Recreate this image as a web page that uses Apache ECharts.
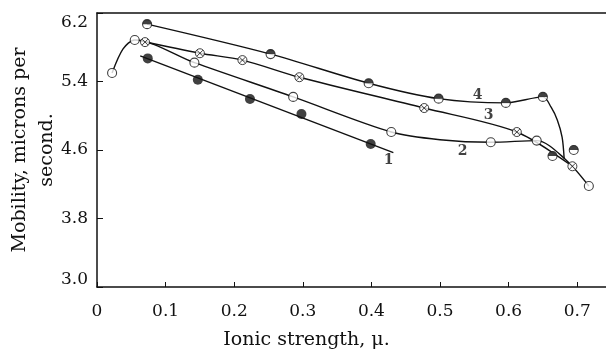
<!DOCTYPE html>
<html><head><meta charset="utf-8">
<script src="https://cdn.jsdelivr.net/npm/echarts@6/dist/echarts.min.js"></script>
<style>html,body{margin:0;padding:0;background:#fff}#c{width:606px;height:349px}</style>
</head><body><div id="c"></div>
<script>
const xTicks = [0, 0.1, 0.2, 0.3, 0.4, 0.5, 0.6, 0.7];
const yTicks = [3.0, 3.8, 4.6, 5.4, 6.2];

// Curve 1 (filled circles)
const s1Points = [[0.074,5.67],[0.147,5.42],[0.223,5.195],[0.298,5.02],[0.399,4.67]];
const s1Line = [[0.063,5.70],[0.432,4.57]];

// Curve 2 (open circles)
const s2Points = [[0.022,5.50],[0.055,5.885],[0.142,5.62],[0.286,5.22],[0.429,4.81],[0.574,4.69],[0.641,4.71],[0.717,4.18]];
const s2Line = [[0.022,5.50],[0.038,5.78],[0.055,5.885],[0.142,5.62],[0.286,5.22],[0.429,4.81],[0.500,4.72],[0.574,4.69],[0.641,4.71],[0.683,4.49],[0.717,4.18]];

// Curve 3 (crossed circles)
const s3Points = [[0.070,5.86],[0.150,5.73],[0.212,5.65],[0.295,5.45],[0.477,5.09],[0.612,4.81],[0.693,4.41]];
const s3Line = [[0.066,5.87],[0.150,5.73],[0.212,5.65],[0.295,5.45],[0.477,5.09],[0.612,4.81],[0.693,4.41]];

// Curve 4 (half-filled circles)
const s4Points = [[0.073,6.07],[0.253,5.72],[0.396,5.38],[0.498,5.20],[0.596,5.15],[0.650,5.22],[0.664,4.53],[0.695,4.60]];
const s4Line = [[0.073,6.07],[0.253,5.72],[0.396,5.38],[0.498,5.20],[0.596,5.15],[0.650,5.22],[0.662,5.10],[0.671,4.95],[0.678,4.75],[0.681,4.50]];

// Curve number labels: [text, x, y]
const curveLabels = [["1",0.425,4.48],["2",0.533,4.58],["3",0.571,5.01],["4",0.555,5.24]];

const INK = '#111';
const serif = 'DejaVu Serif';
const lineStyle = {color: INK, width: 1.4};

function lineSeries(data){
  return {type:'line', data, smooth:0.3, showSymbol:false, symbol:'none', lineStyle, z:2, silent:true};
}

const crossPath = 'path://M10,5A5,5 0 1,1 0,5A5,5 0 1,1 10,5Z M1.6,1.6L8.4,8.4M8.4,1.6L1.6,8.4';
const halfPath = 'path://M0,5A5,5 0 0,1 10,5Z';

const chart = echarts.init(document.getElementById('c'), null, {renderer:'canvas'});
chart.setOption({
  animation:false,
  backgroundColor:'#fff',
  grid:{left:97, top:13, right:0, bottom:62, containLabel:false, outerBoundsMode:'none'},
  xAxis:[{
    type:'value', min:0, max:0.742, position:'bottom',
    axisLine:{show:true, lineStyle:{color:INK, width:1.5}},
    axisTick:{show:true, inside:true, length:5, customValues:xTicks, lineStyle:{color:INK}},
    axisLabel:{customValues:xTicks, margin:16, color:INK, fontFamily:serif, fontSize:17,
      formatter:v=>String(v)},
    splitLine:{show:false},
    name:'Ionic strength, μ.', nameLocation:'middle', nameGap:44, nameMoveOverlap:false,
    nameTextStyle:{color:INK, fontFamily:serif, fontSize:19, padding:[0,90,0,0]}
  },{
    type:'value', min:0, max:0.742, position:'top',
    axisLine:{show:true, onZero:false, lineStyle:{color:INK, width:1.5}},
    axisTick:{show:false}, axisLabel:{show:false}, splitLine:{show:false}
  }],
  yAxis:{
    type:'value', min:3.0, max:6.2,
    axisLine:{show:true, lineStyle:{color:INK, width:1.5}},
    axisTick:{show:true, inside:true, length:6, customValues:yTicks, lineStyle:{color:INK}},
    axisLabel:{customValues:yTicks, margin:9, color:INK, fontFamily:serif, fontSize:17,
      formatter:v=>{
        const s = v.toFixed(1);
        if (Math.abs(v-6.2)<1e-6) return '{a|'+s+'}';
        if (Math.abs(v-3.0)<1e-6) return '{b|'+s+'}';
        return s;
      },
      rich:{
        a:{padding:[20,0,0,0], color:INK, fontFamily:serif, fontSize:17},
        b:{padding:[0,0,14,0], color:INK, fontFamily:serif, fontSize:17}
      }
    },
    splitLine:{show:false},
    name:'Mobility, microns per\nsecond.', nameLocation:'middle', nameRotate:90, nameGap:36,
    nameMoveOverlap:false,
    nameTextStyle:{color:INK, fontFamily:serif, fontSize:19, lineHeight:27}
  },
  series:[
    lineSeries(s1Line), lineSeries(s2Line), lineSeries(s3Line), lineSeries(s4Line),
    {type:'scatter', data:s1Points, symbol:'circle', symbolSize:10, itemStyle:{color:INK}, z:5},
    {type:'scatter', data:s2Points, symbol:'circle', symbolSize:9,
      itemStyle:{color:'#fff', borderColor:INK, borderWidth:1.1}, z:5},
    {type:'scatter', data:s3Points, symbol:crossPath, symbolSize:9,
      itemStyle:{color:'#fff', borderColor:INK, borderWidth:1}, z:5},
    {type:'scatter', data:s4Points, symbol:'circle', symbolSize:9,
      itemStyle:{color:'#fff', borderColor:INK, borderWidth:1.1}, z:5},
    {type:'scatter', data:s4Points, symbol:halfPath, symbolSize:[9,4.5], symbolOffset:[0,-2.25],
      itemStyle:{color:INK}, z:6},
    {type:'scatter', data:curveLabels.map(d=>({name:d[0], value:[d[1],d[2]]})),
      symbolSize:0, z:7,
      label:{show:true, position:'inside', formatter:p=>p.name, color:INK,
        fontFamily:'DejaVu Serif', fontWeight:'bold', fontSize:14}}
  ]
});
</script></body></html>
